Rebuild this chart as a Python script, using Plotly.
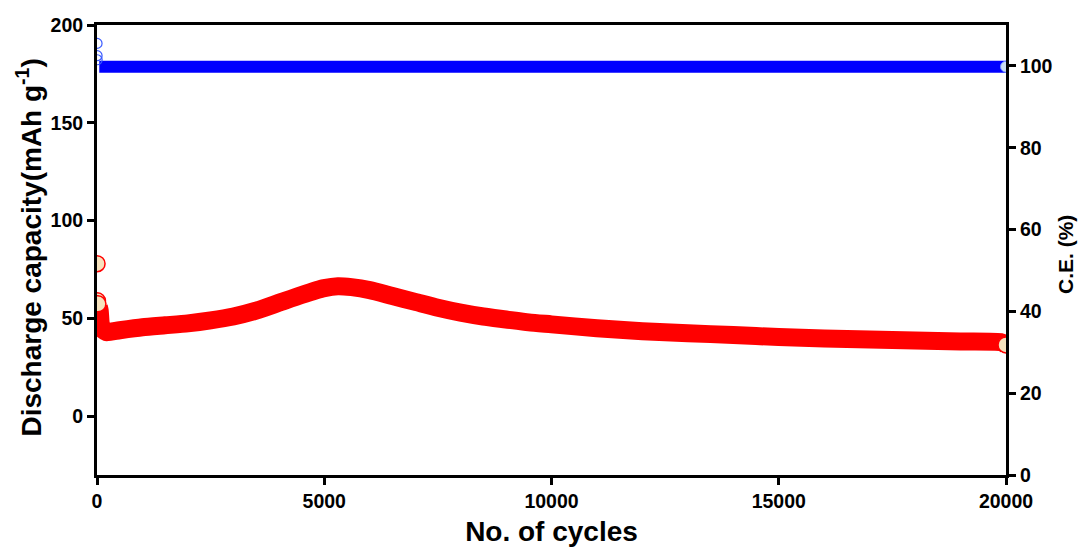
import plotly.graph_objects as go

# Discharge capacity (left axis) vs cycle number
cap_cycles = [1, 10, 20, 40, 60, 100, 200, 500, 1000, 1500, 2000, 2500, 3000, 3500,
              4000, 4500, 5000, 5300, 5600, 6000, 6500, 7000, 7500, 8000, 8500, 9000,
              9500, 10000, 11000, 12000, 13000, 14000, 15000, 16000, 17000, 18000,
              19000, 19900, 20000]
capacity = [78, 59, 57.5, 56, 54, 45, 43, 44, 45.5, 46.5, 47.5, 49, 51, 54,
            58, 62, 65.5, 66.5, 66, 64.5, 61.5, 58.5, 55.5, 53, 51, 49.5,
            48, 47, 45, 43.5, 42.5, 41.5, 40.5, 39.8, 39.2, 38.7,
            38.2, 37.8, 36.5]

# Coulombic efficiency (right axis) vs cycle number
ce_cycles = [1, 2, 3, 50, 1000, 3000, 5000, 7500, 10000, 12500, 15000, 17500, 20000]
ce_values = [105.5, 102.5, 101.5, 99.8, 99.8, 99.8, 99.8, 99.8, 99.8, 99.8, 99.8, 99.8, 99.8]

RED = "#ff0000"
BLUE = "#0000ff"
BEIGE = "#f6e2bd"

fig = go.Figure()

# capacity band (dense overlapping circles render as a solid thick stroke)
fig.add_trace(go.Scatter(
    x=cap_cycles[3:], y=capacity[3:], mode="lines",
    line=dict(color=RED, width=18, shape="spline", smoothing=0.6),
    showlegend=False, yaxis="y"))

# first cycles and the last one as open circles with light fill
cap_idx = [0, 1, 2, len(cap_cycles) - 1]
fig.add_trace(go.Scatter(
    x=[cap_cycles[i] for i in cap_idx], y=[capacity[i] for i in cap_idx],
    mode="markers",
    marker=dict(symbol="circle", size=16, color=BEIGE, line=dict(color=RED, width=1.5)),
    showlegend=False, yaxis="y"))

# coulombic efficiency band
fig.add_trace(go.Scatter(
    x=ce_cycles[3:], y=ce_values[3:], mode="lines",
    line=dict(color=BLUE, width=12),
    showlegend=False, yaxis="y2"))

ce_idx = [0, 1, 2]
fig.add_trace(go.Scatter(
    x=[ce_cycles[i] for i in ce_idx], y=[ce_values[i] for i in ce_idx],
    mode="markers",
    marker=dict(symbol="circle-open", size=10, color="#3a5bff", line=dict(width=1.2)),
    showlegend=False, yaxis="y2"))
fig.add_trace(go.Scatter(
    x=[ce_cycles[-1]], y=[ce_values[-1]], mode="markers",
    marker=dict(symbol="circle", size=11, color="#c9dcf2", line=dict(color="#6f8fff", width=1)),
    showlegend=False, yaxis="y2"))

FAMILY = "Liberation Sans, Arial, sans-serif"
tick_font = dict(family=FAMILY, size=19.5, color="black", weight=700)
axis_common = dict(
    showgrid=False, zeroline=False, showline=True, linecolor="black", linewidth=3,
    ticks="outside", ticklen=7, tickwidth=3, tickcolor="black", tickfont=tick_font,
    automargin=False)

fig.update_layout(
    width=1083, height=547,
    margin=dict(l=97, r=77, t=25, b=72),
    plot_bgcolor="white", paper_bgcolor="white",
    font=dict(family=FAMILY, color="black", weight=700),
    xaxis=dict(
        range=[0, 20000], tickvals=[0, 5000, 10000, 15000, 20000],
        ticktext=["0", "5000", "10000", "15000", "20000"],
        mirror=True,
        title=dict(text="No. of cycles",
                   font=dict(family=FAMILY, size=28, weight=700)),
        **axis_common),
    yaxis=dict(
        range=[-30, 200], tickvals=[0, 50, 100, 150, 200],
        **axis_common),
    yaxis2=dict(
        range=[0, 110], tickvals=[0, 20, 40, 60, 80, 100],
        overlaying="y", side="right",
        **axis_common),
    annotations=[
        dict(text="Discharge capacity(mAh g<sup>-1</sup>)", textangle=-90,
             xref="paper", yref="paper", x=-0.075, y=0.505,
             xanchor="center", yanchor="middle", showarrow=False,
             font=dict(family=FAMILY, size=28, weight=700, color="black")),
        dict(text="C.E. (%)", textangle=-90,
             xref="paper", yref="paper", x=1.0655, y=0.49,
             xanchor="center", yanchor="middle", showarrow=False,
             font=dict(family=FAMILY, size=21, weight=700, color="black")),
    ],
)

fig.write_html("out.html")
